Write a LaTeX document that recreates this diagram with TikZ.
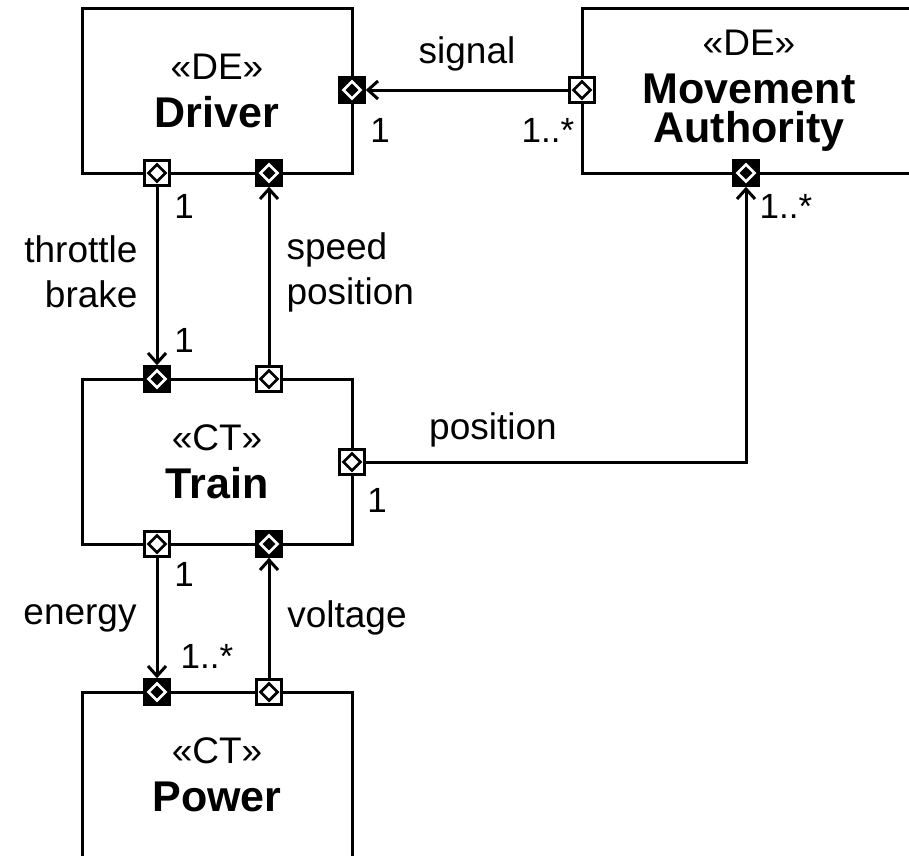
\documentclass[tikz,border=0pt]{standalone}
\usepackage{fontspec}
\setmainfont{Liberation Sans}
\usetikzlibrary{arrows.meta}

\newcommand{\stereo}[1]{{\mdseries\fontsize{37}{44}\selectfont «#1»}}

\begin{document}
\begin{tikzpicture}[x=1pt, y=-1pt, line width=3pt,
    >={Straight Barb[length=10pt, width=18pt]},
    block/.style={draw, rectangle, line width=3pt, minimum width=270pt, minimum height=165pt,
      align=center, font=\fontsize{43}{41}\selectfont\bfseries},
    port/.style={draw, rectangle, line width=2.5pt, minimum size=25pt, inner sep=0pt},
    portin/.style={port, fill=white, path picture={
      \draw[black, line width=2.8pt] (path picture bounding box.center)
        ++(0,-8.5) -- ++(8.5,8.5) -- ++(-8.5,8.5) -- ++(-8.5,-8.5) -- cycle;}},
    portout/.style={port, fill=black, path picture={
      \draw[white, line width=2.8pt] (path picture bounding box.center)
        ++(0,-8.5) -- ++(8.5,8.5) -- ++(-8.5,8.5) -- ++(-8.5,-8.5) -- cycle;}},
    lbl/.style={font=\fontsize{37}{45}\selectfont, inner sep=0pt},
    mult/.style={font=\fontsize{35}{40}\selectfont, inner sep=0pt}]
  \useasboundingbox (0,0) rectangle (909,855);

  % Bloecke
  \node[block] (driver) at (217,90.5) {\stereo{DE}\\[7pt]Driver};
  \node[block, minimum width=334pt] (ma) at (749,90.5) {\stereo{DE}\\[7pt]Movement\\[-2pt]Authority};
  \node[block] (train) at (217,461.5) {\stereo{CT}\\[7pt]Train};
  \node[block] (power) at (217,774.5) {\stereo{CT}\\[7pt]Power};

  % Ports
  \node[portout] (drvSig) at (352,90) {};
  \node[portin] (drvCmd) at (157,173) {};
  \node[portout] (drvObs) at (269,173) {};
  \node[portin] (maSig) at (582,90) {};
  \node[portout] (maPos) at (746,173) {};
  \node[portout] (trnCmd) at (157,379) {};
  \node[portin] (trnObs) at (269,379) {};
  \node[portin] (trnPos) at (352,462) {};
  \node[portin] (trnNrg) at (157,544) {};
  \node[portout] (trnVolt) at (269,544) {};
  \node[portout] (pwrNrg) at (157,692) {};
  \node[portin] (pwrVolt) at (269,692) {};

  % signal
  \draw[->] (maSig) -- (drvSig);
  \node[lbl] (sigLbl) at (467,54) {signal};
  \node[mult] (sigM1) at (380,130) {1};
  \node[mult] (sigM2) at (548,130) {1..*};

  % throttle / brake
  \draw[->] (drvCmd) -- (trnCmd);
  \node[lbl, anchor=east, align=right] (cmdLbl) at (139,272) {throttle\\brake};
  \node[mult] (cmdM1) at (184,206) {1};
  \node[mult] (cmdM2) at (184,340) {1};

  % speed / position
  \draw[->] (trnObs) -- (drvObs);
  \node[lbl, anchor=west, align=left] (obsLbl) at (285,272) {speed\\position};

  % position
  \draw[->] (trnPos) -| (maPos);
  \node[lbl] (posLbl) at (493,430) {position};
  \node[mult] (posM1) at (377,500) {1};
  \node[mult] (posM2) at (786,206) {1..*};

  % energy / voltage
  \draw[->] (trnNrg) -- (pwrNrg);
  \draw[->] (pwrVolt) -- (trnVolt);
  \node[lbl] (nrgLbl) at (80,618) {energy};
  \node[lbl] (voltLbl) at (347,618) {voltage};
  \node[mult] (nrgM1) at (184,574) {1};
  \node[mult] (nrgM2) at (207,656) {1..*};
\end{tikzpicture}
\end{document}
